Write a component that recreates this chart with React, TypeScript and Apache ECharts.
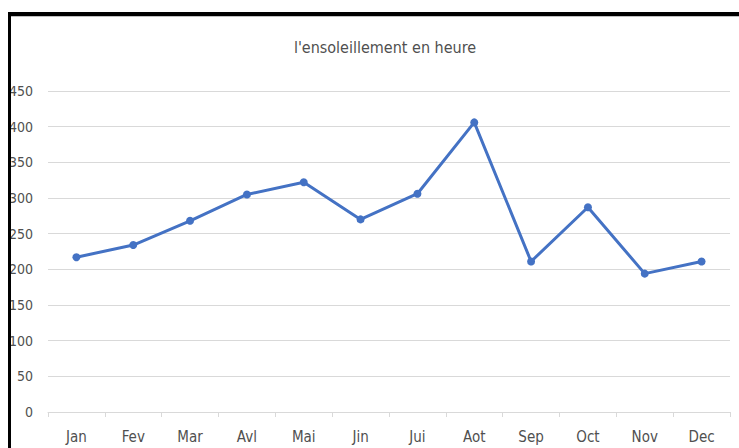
import React, { useEffect, useRef } from "react";
import * as echarts from "echarts";

const months = ["Jan", "Fev", "Mar", "Avl", "Mai", "Jin", "Jui", "Aot", "Sep", "Oct", "Nov", "Dec"];
const sunshine = [217, 234, 268, 305, 322, 270, 306, 406, 211, 287, 194, 211];
const titleText = "l'ensoleillement en heure";

const FONT = "'DejaVu Sans Condensed', sans-serif";

export default function App() {
  const ref = useRef<HTMLDivElement>(null);
  useEffect(() => {
    if (!ref.current) return;
    const chart = echarts.init(ref.current, undefined, { renderer: "svg" });
    chart.setOption({
      animation: false,
      backgroundColor: "#ffffff",
      title: {
        text: titleText,
        left: 380,
        textAlign: "center",
        top: 34,
        textStyle: { fontFamily: FONT, fontSize: 16, fontWeight: "normal", color: "#505050" },
      },
      grid: { left: 48, right: 9, top: 91, bottom: 36 },
      xAxis: {
        type: "category",
        data: months,
        boundaryGap: true,
        axisLine: { lineStyle: { color: "#d9d9d9", width: 1 } },
        axisTick: { show: true, length: 5, lineStyle: { color: "#d9d9d9" } },
        axisLabel: { fontFamily: FONT, fontSize: 15, color: "#505050", margin: 17 },
      },
      yAxis: {
        type: "value",
        min: 0,
        max: 450,
        interval: 50,
        axisLine: { show: false },
        axisTick: { show: false },
        splitLine: { lineStyle: { color: "#d9d9d9", width: 1 } },
        axisLabel: { fontFamily: FONT, fontSize: 14, color: "#505050", margin: 15 },
      },
      series: [
        {
          type: "line",
          data: sunshine,
          symbol: "circle",
          symbolSize: 8,
          itemStyle: { color: "#4472c4" },
          lineStyle: { color: "#4472c4", width: 3 },
        },
      ],
      graphic: [
        { type: "rect", shape: { x: 8, y: 12, width: 731, height: 4 }, style: { fill: "#000000" }, z: 100 },
        { type: "rect", shape: { x: 8, y: 16, width: 731, height: 1 }, style: { fill: "#bfbfbf" }, z: 100 },
        { type: "rect", shape: { x: 8, y: 12, width: 3, height: 436 }, style: { fill: "#000000" }, z: 100 },
      ],
    });
    return () => chart.dispose();
  }, []);
  return (
    <div
      ref={ref}
      style={{ position: "fixed", left: 0, top: 0, width: 739, height: 448 }}
    />
  );
}
